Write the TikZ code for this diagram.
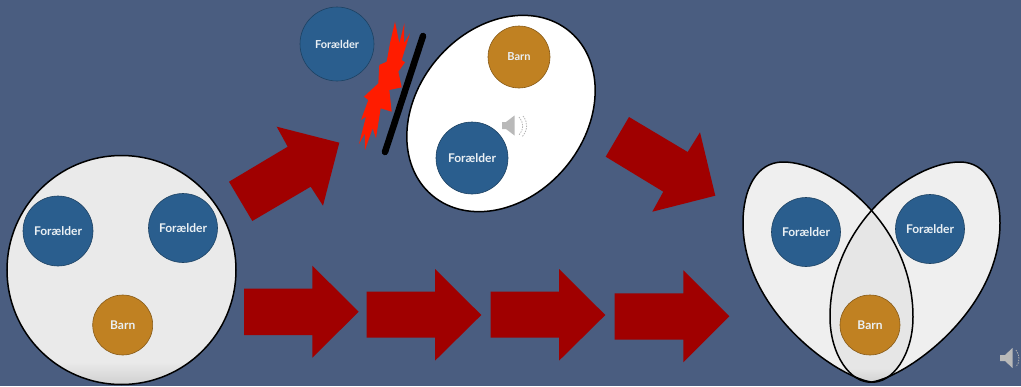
\documentclass[tikz,border=0pt]{standalone}
\usepackage{fontspec}
\setmainfont{Lato}
\definecolor{bgblue}{HTML}{4A5D80}
\definecolor{parentblue}{HTML}{2A5E8E}
\definecolor{childgold}{HTML}{C08122}
\definecolor{arrowred}{HTML}{A00000}
\definecolor{burstred}{HTML}{FF1C00}
\definecolor{paleset}{HTML}{EFEFEF}
\definecolor{circleset}{HTML}{EAEAEA}
\definecolor{lensset}{HTML}{E6E6E6}
\definecolor{shadeset}{HTML}{CFCFCF}
\definecolor{labelwhite}{HTML}{EAF0F4}
\tikzset{
  person/.style={circle,draw=#1!70!black,fill=#1,line width=.6pt,inner sep=0pt,text=labelwhite,font=\bfseries\fontsize{12}{13}\selectfont},
  parentnode/.style={person=parentblue,minimum size=#1},
  childnode/.style={person=childgold,minimum size=#1},
  bigarrow/.style={fill=arrowred,draw=none},
  setline/.style={draw=black,line width=1.5pt},
  speaker/.style={fill=gray!55!white,draw=none},
  speakerdots/.style={draw=gray!60!white,line width=.8pt,dash pattern=on 1.4pt off 1.2pt},
  leftegg/.style={insert path={(871,382) .. controls (835,376) and (743,310) .. (743,223)
    .. controls (743,190) and (756,162) .. (783,162)
    .. controls (832,162) and (913,225) .. (913,317)
    .. controls (913,355) and (892,384) .. (871,382) -- cycle}},
  rightegg/.style={insert path={(872,382) .. controls (908,376) and (1000,310) .. (1000,223)
    .. controls (1000,190) and (987,162) .. (960,162)
    .. controls (911,162) and (830,225) .. (830,317)
    .. controls (830,355) and (851,384) .. (872,382) -- cycle}}
}
\begin{document}
\begin{tikzpicture}[x=1pt,y=-1pt]
\path[use as bounding box,fill=bgblue] (0,0) rectangle (1021,386);

% left family circle
\fill[circleset] (121.5,270) circle[radius=114.5];
\begin{scope}
  \clip (121.5,270) circle[radius=114.5];
  \shade[top color=circleset,bottom color=shadeset] (0,362) rectangle (240,385);
\end{scope}
\draw[setline] (121.5,270) circle[radius=114.5];
\node[parentnode=70pt] (p1) at (58,231) {Forælder};
\node[parentnode=69pt] (p2) at (183,228) {Forælder};
\node[childnode=60pt] (c1) at (122.7,325) {Barn};

% top scene
\node[parentnode=74pt,font=\bfseries\fontsize{11}{12}\selectfont] (p3) at (337,44) {Forælder};
\fill[burstred,shift={(290,0)},x=.3333pt,y=-.3333pt]
  (315,65)--(328,130)--(343,70)--(342,130)--(360,100)--(335,180)--(345,187)--(325,215)--(335,262)
  --(298,270)--(305,335)--(272,325)--(258,415)--(248,385)--(225,450)--(225,400)--(207,432)
  --(228,350)--(213,360)--(235,300)--(222,290)--(265,250)--(268,195)--(290,185)--(300,130)--cycle;
\draw[line width=6.5pt,line cap=round] (423,36) -- (385,152);
\draw[setline,fill=white,rotate around={50:(501,113.5)}] (501,113.5) ellipse[x radius=107,y radius=84];
\node[childnode=62pt,font=\bfseries\fontsize{11}{12}\selectfont] (c2) at (519,57) {Barn};
\node[parentnode=72pt] (p4) at (472,158) {Forælder};
\fill[speaker] (502,122)--(506,122)--(514.5,115.5)--(514.5,135.5)--(506,129)--(502,129)--cycle;
\draw[speakerdots] (519,117) .. controls (524,122) and (524,130) .. (519,135);
\draw[speakerdots] (523,116) .. controls (528,122) and (528,130) .. (522,137);

% right overlapping sets
\fill[paleset,leftegg];
\fill[paleset,rightegg];
\begin{scope}
  \clip[leftegg];
  \fill[lensset,rightegg];
  \shade[top color=lensset,bottom color=shadeset] (820,368) rectangle (925,384);
\end{scope}
\draw[setline,leftegg];
\draw[setline,rightegg];
\node[parentnode=69pt] (p5) at (806,232) {Forælder};
\node[parentnode=69pt] (p6) at (930,229) {Forælder};
\node[childnode=60pt] (c3) at (870,325) {Barn};
\fill[speaker] (1000,355)--(1005,355)--(1012.5,348)--(1012.5,368)--(1005,361)--(1000,361)--cycle;
\draw[speakerdots] (1016,350) .. controls (1020,355) and (1020,362) .. (1016,367);

% arrows
\fill[bigarrow] (229,181.7)--(287.7,146.7)--(276.7,126.7)--(339.3,142.7)--(323,205.7)--(310.7,186.7)--(252.3,221)--cycle;
\fill[bigarrow] (629,117)--(687.7,152)--(700,132.3)--(715.3,195.7)--(652.3,211.7)--(663.3,191.7)--(605.7,156.7)--cycle;
\fill[bigarrow] (244,288.7)--(312.3,288.7)--(312.3,265.7)--(358.7,311.7)--(312.3,357.7)--(312.3,335)--(244,335)--cycle;
\fill[bigarrow] (366.7,291.7)--(435,291.7)--(435,269)--(481.3,315)--(435,360.7)--(435,337.7)--(366.7,337.7)--cycle;
\fill[bigarrow] (490.7,291.7)--(559,291.7)--(559,269)--(605.3,315)--(559,360.7)--(559,337.7)--(490.7,337.7)--cycle;
\fill[bigarrow] (614.7,293.3)--(683.3,293.3)--(683.3,270.3)--(729.3,316.3)--(683.3,362.3)--(683.3,339.7)--(614.7,339.7)--cycle;
\end{tikzpicture}
\end{document}
